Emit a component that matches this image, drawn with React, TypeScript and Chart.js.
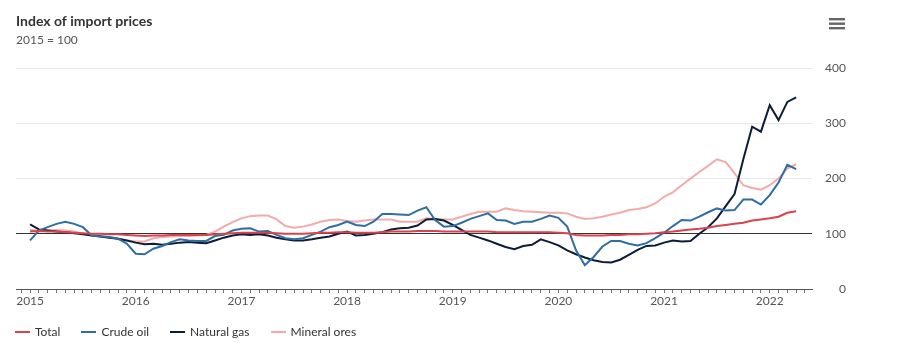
import React, { useEffect, useRef } from "react";
import { Chart, registerables } from "chart.js";

Chart.register(...registerables);

const startYear = 2015;
const yearLabels = ["2015", "2016", "2017", "2018", "2019", "2020", "2021", "2022"];
const yTicks = [0, 100, 200, 300, 400];

// Monthly values, Jan 2015 .. Apr 2022 (2015 = 100)
const total = [
  104, 105, 104, 104, 103, 102, 101, 100, 100, 99, 99, 98,
  97, 96, 97, 97, 98, 98, 98, 98, 98, 99, 100, 101,
  102, 102, 102, 102, 101, 100, 100, 100, 101, 102, 102, 103,
  103, 102, 102, 102, 103, 104, 104, 104, 105, 105, 105, 104,
  104, 104, 104, 104, 104, 103, 103, 103, 103, 103, 103, 103,
  102, 101, 98, 97, 97, 97, 98, 98, 99, 99, 100, 101,
  103, 104, 106, 108, 109, 111, 114, 116, 118, 120, 124, 126,
  128, 131, 138, 141,
];
const crudeOil = [
  88, 106, 112, 118, 122, 118, 112, 97, 95, 94, 91, 82,
  64, 63, 73, 78, 85, 90, 88, 87, 87, 96, 98, 106,
  109, 110, 104, 105, 98, 92, 90, 92, 98, 104, 112, 116,
  122, 116, 114, 122, 136, 136, 135, 134, 142, 148, 125, 113,
  114, 120, 127, 132, 137, 125, 124, 118, 122, 122, 127, 133,
  129, 113, 70, 43, 58, 77, 87, 87, 82, 79, 83, 92,
  102, 114, 125, 124, 131, 139, 146, 142, 143, 162, 162, 153,
  170, 193, 225, 217,
];
const naturalGas = [
  117, 108, 106, 104, 103, 101, 99, 97, 95, 93, 91, 88,
  84, 81, 82, 80, 82, 84, 85, 84, 83, 88, 93, 97,
  99, 98, 99, 97, 93, 90, 88, 88, 90, 93, 95, 100,
  104, 97, 98, 100, 103, 108, 110, 111, 115, 126, 127, 124,
  116, 107, 98, 93, 88, 82, 76, 72, 78, 80, 90, 85,
  79, 70, 63, 57, 52, 49, 48, 53, 62, 71, 78, 79,
  84, 88, 86, 87, 100, 112, 128, 150, 172, 235, 294, 285,
  333, 306, 339, 347,
];
const mineralOres = [
  107, 106, 106, 107, 106, 104, 100, 98, 97, 94, 91, 88,
  86, 86, 92, 94, 95, 96, 96, 97, 98, 104, 113, 121,
  128, 132, 133, 133, 126, 114, 111, 113, 117, 122, 125, 126,
  123, 122, 124, 126, 126, 126, 122, 122, 122, 128, 127, 126,
  126, 131, 136, 140, 140, 140, 146, 143, 141, 140, 139, 138,
  138, 137, 131, 127, 128, 131, 135, 138, 143, 145, 148, 155,
  167, 175, 188, 200, 212, 223, 235, 230, 210, 188, 183, 180,
  188, 200, 218, 226,
];

const seriesNames = ["Total", "Crude oil", "Natural gas", "Mineral ores"];
const seriesColors = ["#d8434d", "#2f6ea2", "#0c1d38", "#f2abaa"];
const seriesValues = [total, crudeOil, naturalGas, mineralOres];

const FONT = "Lato, 'Open Sans', sans-serif";

const menuIcon = {
  id: "menuIcon",
  afterDraw(chart: any) {
    const ctx = chart.ctx;
    ctx.save();
    ctx.fillStyle = "#666";
    for (let i = 0; i < 3; i++) {
      ctx.fillRect(829, 18 + i * 4.5, 16, 2.4);
    }
    ctx.restore();
  },
};

export default function App() {
  const ref = useRef<HTMLCanvasElement | null>(null);

  useEffect(() => {
    document.body.style.margin = "0";
    if (!ref.current) return;
    const chart = new Chart(ref.current, {
      type: "line",
      data: {
        datasets: seriesValues.map((vals, k) => ({
          label: seriesNames[k],
          data: vals.map((v, i) => ({ x: i, y: v })),
          borderColor: seriesColors[k],
          backgroundColor: seriesColors[k],
          borderWidth: 2,
          pointRadius: 0,
          tension: 0,
          fill: false,
        })),
      },
      options: {
        animation: false,
        responsive: true,
        maintainAspectRatio: false,
        layout: { padding: { left: 16, right: 54, top: 0, bottom: 43 } },
        plugins: {
          legend: { display: false },
          tooltip: { enabled: false },
          title: {
            display: true,
            text: "Index of import prices",
            align: "start",
            color: "#333",
            font: { family: FONT, size: 14, weight: "bold" },
            padding: { top: 13, bottom: 3 },
          },
          subtitle: {
            display: true,
            text: "2015 = 100",
            align: "start",
            color: "#555",
            font: { family: FONT, size: 12 },
            padding: { top: 0, bottom: 21 },
          },
        },
        scales: {
          x: {
            type: "linear",
            min: -1.6,
            max: 88.8,
            afterBuildTicks: (scale: any) => {
              const t = [];
              for (let m = -1; m <= 88; m++) t.push({ value: m });
              scale.ticks = t;
            },
            afterFit: (scale: any) => {
              scale.height = 20;
            },
            ticks: {
              autoSkip: false,
              maxRotation: 0,
              padding: 1,
              color: "#555",
              font: { family: FONT, size: 12 },
              callback: (v: any) => {
                const n = Number(v);
                return n % 12 === 0 ? yearLabels[n / 12] ?? String(startYear + n / 12) : "";
              },
            },
            grid: {
              drawOnChartArea: false,
              drawTicks: true,
              tickLength: 4,
              tickColor: "#777",
            },
            border: { display: true, color: "#555", width: 1 },
          },
          y: {
            position: "right",
            min: 0,
            max: 400,
            afterBuildTicks: (scale: any) => {
              scale.ticks = yTicks.map((v) => ({ value: v }));
            },
            afterFit: (scale: any) => {
              scale.width = 34;
            },
            ticks: {
              padding: 14,
              crossAlign: "far",
              color: "#555",
              font: { family: FONT, size: 12 },
            },
            grid: {
              drawTicks: false,
              color: (c: any) => (c.tick && c.tick.value === 100 ? "#333" : "#e8e8e8"),
              lineWidth: 1,
            },
            border: { display: false },
          },
        },
      },
      plugins: [menuIcon],
    });
    return () => chart.destroy();
  }, []);

  return (
    <div style={{ position: "relative", width: 900, height: 352, fontFamily: FONT }}>
      <canvas ref={ref} />
      <div
        style={{
          position: "absolute",
          left: 15,
          top: 323,
          display: "flex",
          fontSize: 12,
          color: "#333",
          lineHeight: "18px",
        }}
      >
        {seriesNames.map((name, k) => (
          <div key={name} style={{ display: "flex", alignItems: "center", marginRight: 21 }}>
            <span
              style={{
                display: "inline-block",
                width: 15,
                height: 2,
                background: seriesColors[k],
                marginRight: 5,
              }}
            />
            <span>{name}</span>
          </div>
        ))}
      </div>
    </div>
  );
}
